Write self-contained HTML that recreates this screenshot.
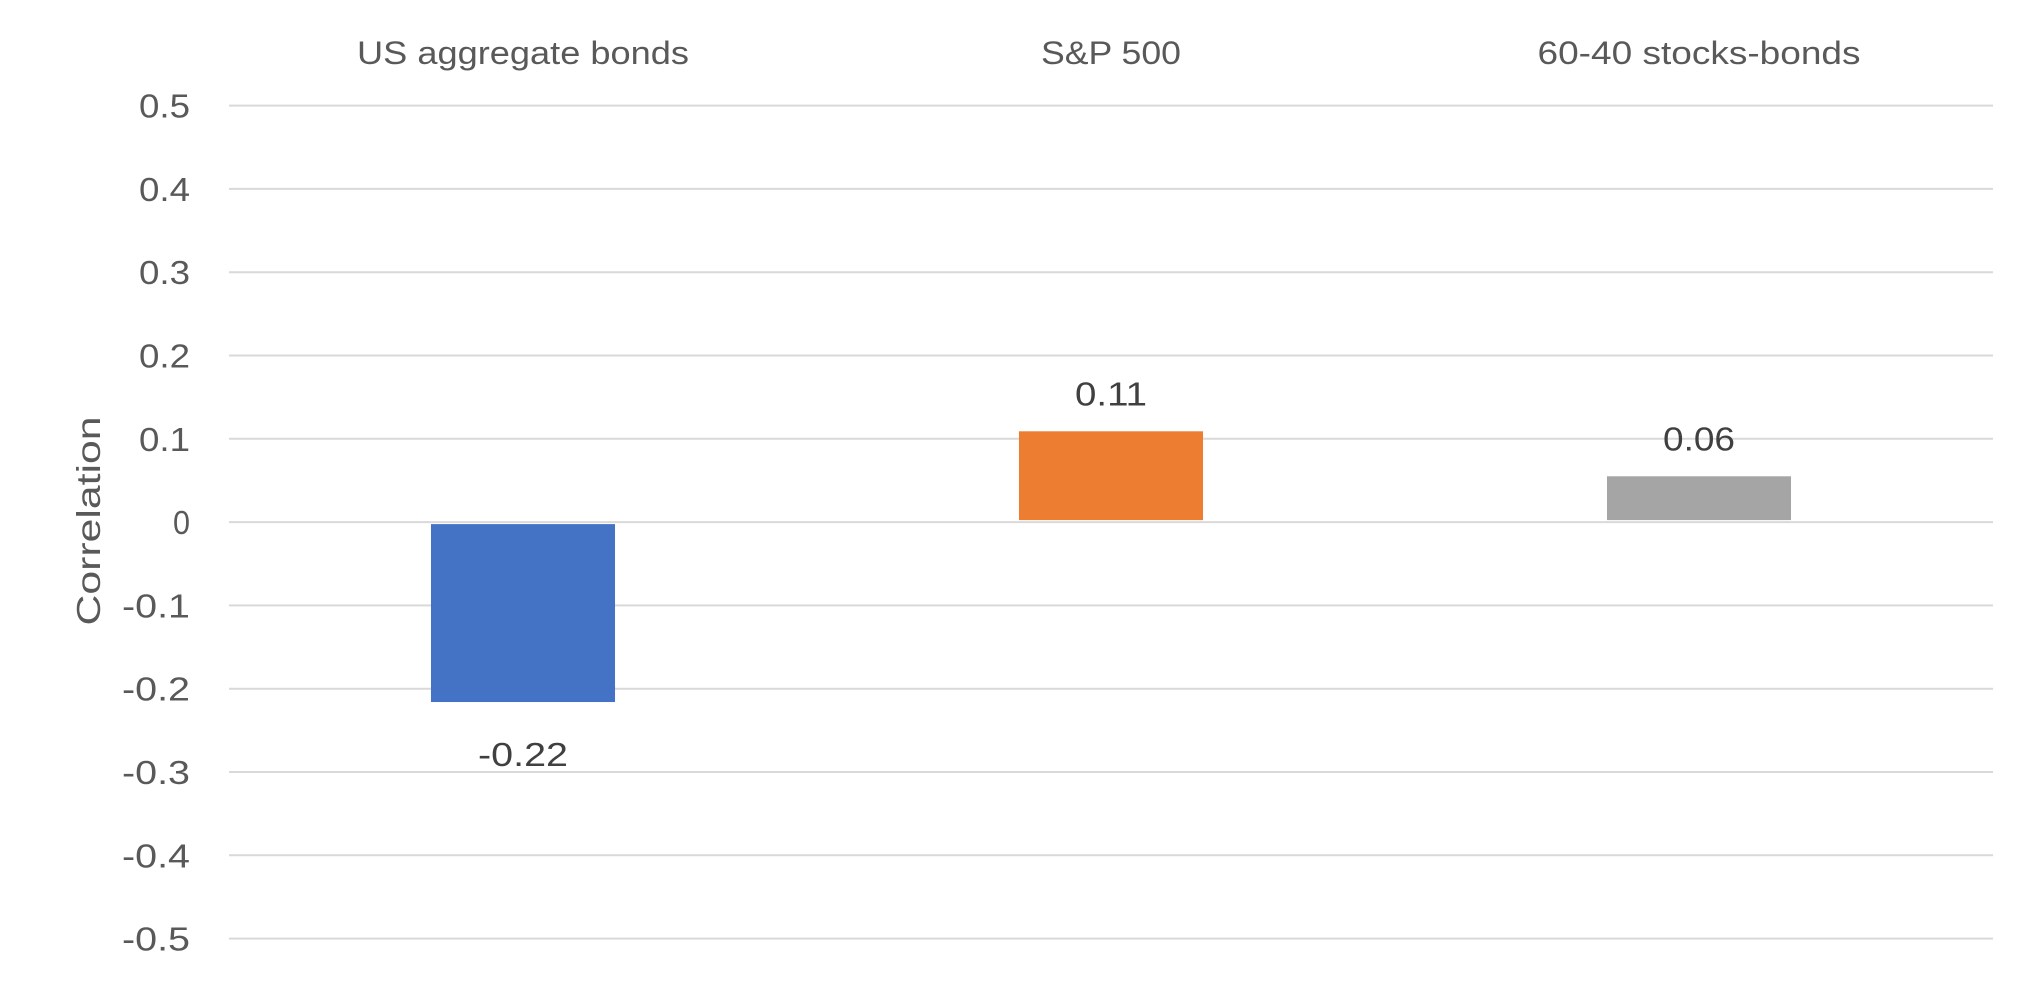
<!DOCTYPE html>
<html><head><meta charset="utf-8"><style>
html,body{margin:0;padding:0;background:#fff;}
svg{display:block;font-family:"Liberation Sans",sans-serif;}
</style></head><body>
<svg id="chart" width="2044" height="990" viewBox="0 0 2044 990" xmlns="http://www.w3.org/2000/svg">
<g id="grid"></g>
<g id="yticks"></g>
<g id="bars"></g>
<g id="labels"></g>
<g id="cats"></g>
<text transform="translate(100,521) rotate(-90)" text-anchor="middle" font-size="33" fill="#595959" textLength="209" lengthAdjust="spacingAndGlyphs">Correlation</text>
</svg>
<script>
const categories = ["US aggregate bonds", "S&P 500", "60-40 stocks-bonds"];
const values = [-0.216, 0.109, 0.055];
const valueLabels = ["-0.22", "0.11", "0.06"];
const colors = ["#4472c4", "#ed7d31", "#a5a5a5"];
const yTicks = [0.5, 0.4, 0.3, 0.2, 0.1, 0, -0.1, -0.2, -0.3, -0.4, -0.5];
const yTickLabels = ["0.5","0.4","0.3","0.2","0.1","0","-0.1","-0.2","-0.3","-0.4","-0.5"];

const NS = "http://www.w3.org/2000/svg";
const left = 229, right = 1993, yTop = 105.6, yBot = 938.6, vMax = 0.5, vMin = -0.5;
const y = v => yTop + (vMax - v) / (vMax - vMin) * (yBot - yTop);
const band = (right - left) / categories.length;
const xc = i => left + band * (i + 0.5);
const barW = band * 0.313;
const catLen = [332, 140, 323];
function mk(tag, attrs, parent, text) {
  const e = document.createElementNS(NS, tag);
  for (const k in attrs) e.setAttribute(k, attrs[k]);
  if (text !== undefined) e.textContent = text;
  document.getElementById(parent).appendChild(e);
  return e;
}
yTicks.forEach((t, i) => {
  const l = mk("line", {x1: left, x2: right, y1: y(t), y2: y(t), stroke: "#d9d9d9", "stroke-width": 2}, "grid");
  
  
  const tx = mk("text", {x: 190, y: y(t) + 12, "text-anchor": "end", "font-size": 33, fill: "#595959", textLength: yTickLabels[i].length * 17, lengthAdjust: "spacingAndGlyphs"}, "yticks", yTickLabels[i]);
  
  
});
values.forEach((v, i) => {
  const y0 = y(0), yv = y(v);
  const r = mk("rect", {x: xc(i) - barW / 2, y: Math.min(y0, yv) + (v < 0 ? 2 : 0), width: barW, height: Math.abs(yv - y0) - 2, fill: colors[i]}, "bars");
  
  
  const ly = v < 0 ? yv + 64 : yv - 26;
  const t = mk("text", {x: xc(i), y: ly, "text-anchor": "middle", "font-size": 33, fill: "#404040", textLength: valueLabels[i].length * 18, lengthAdjust: "spacingAndGlyphs"}, "labels", valueLabels[i]);
  
  
  const c = mk("text", {x: xc(i), y: 64, "text-anchor": "middle", "font-size": 32, fill: "#595959", textLength: catLen[i], lengthAdjust: "spacingAndGlyphs"}, "cats", categories[i]);
  
  
});
</script>
</body></html>
